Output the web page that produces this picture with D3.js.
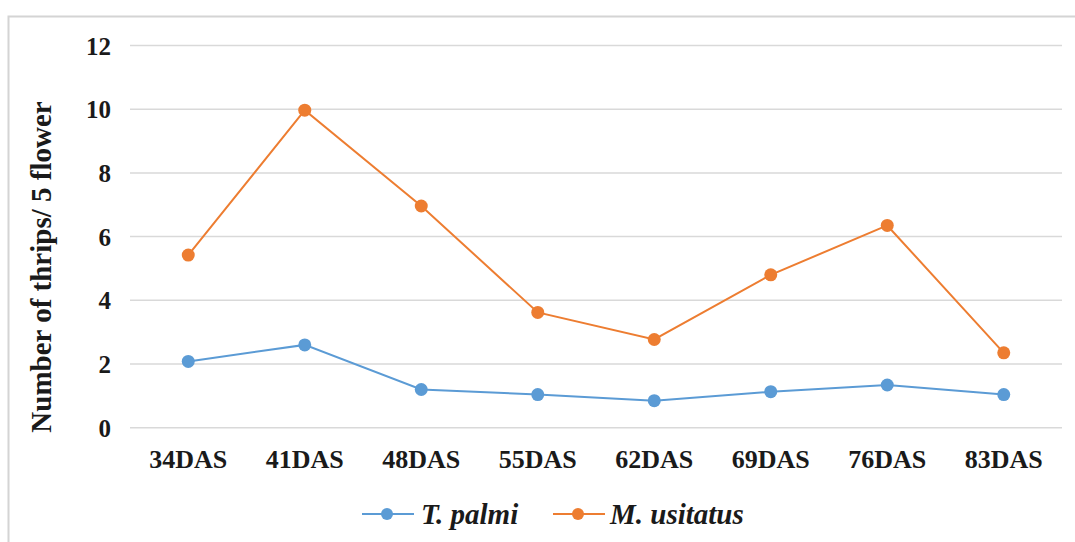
<!DOCTYPE html>
<html>
<head>
<meta charset="utf-8">
<script src="https://cdn.jsdelivr.net/npm/d3@7"></script>
<style>
  html, body { margin: 0; padding: 0; background: #fff; }
  svg { display: block; }
  svg text { font-family: "Liberation Serif", "Times New Roman", Times, "DejaVu Serif", serif; font-weight: bold; fill: #1a1a1a; }
</style>
</head>
<body>
<svg id="chart" width="1075" height="542"></svg>
<script>
const categories = ["34DAS", "41DAS", "48DAS", "55DAS", "62DAS", "69DAS", "76DAS", "83DAS"];
const tPalmi = [2.08, 2.6, 1.2, 1.04, 0.85, 1.13, 1.34, 1.04];
const mUsitatus = [5.42, 9.97, 6.96, 3.62, 2.77, 4.8, 6.35, 2.35];
const yTicks = [0, 2, 4, 6, 8, 10, 12];
const seriesNames = ["T. palmi", "M. usitatus"];
const seriesColors = ["#5B9BD5", "#ED7D31"];

const svg = d3.select("#chart");

// outer frame
svg.append("rect").attr("x", 8.5).attr("y", 16.5).attr("width", 1200).attr("height", 600)
  .attr("fill", "#fff").attr("stroke", "#d4d4d4").attr("stroke-width", 2);

const x = d3.scaleBand().domain(categories).range([130, 1062]);
const y = d3.scaleLinear().domain([0, 12]).range([427.7, 45.5]);

// gridlines
svg.append("g").selectAll("line").data(yTicks).join("line")
  .attr("x1", 130).attr("x2", 1062)
  .attr("y1", d => y(d)).attr("y2", d => y(d))
  .attr("stroke", "#d9d9d9").attr("stroke-width", 1.5);

// y axis labels
const yAxis = svg.append("g").attr("transform", "translate(111,0)")
  .call(d3.axisLeft(y).tickValues(yTicks).tickSize(0).tickPadding(0));
yAxis.attr("font-family", null).attr("font-size", null);
yAxis.select(".domain").remove();
yAxis.selectAll("text").style("font-size", "25px").attr("dy", "0.34em").attr("text-anchor", "end");

// x axis labels
const xAxis = svg.append("g").attr("transform", "translate(0,468)")
  .call(d3.axisBottom(x).tickSize(0).tickPadding(0));
xAxis.attr("font-family", null).attr("font-size", null);
xAxis.select(".domain").remove();
xAxis.selectAll("text").style("font-size", "26px").attr("dy", 0).attr("y", 0);

// y title
svg.append("text")
  .attr("transform", "translate(51,267) rotate(-90)")
  .attr("text-anchor", "middle")
  .style("font-size", "29px")
  .text("Number of thrips/ 5 flower");

const cx = d => x(d) + x.bandwidth() / 2;
const series = [tPalmi, mUsitatus];
series.forEach((vals, i) => {
  const line = d3.line().x((d, j) => cx(categories[j])).y(d => y(d));
  svg.append("path").datum(vals).attr("d", line)
    .attr("fill", "none").attr("stroke", seriesColors[i]).attr("stroke-width", 2);
  svg.append("g").selectAll("circle").data(vals).join("circle")
    .attr("cx", (d, j) => cx(categories[j])).attr("cy", d => y(d)).attr("r", 6.5)
    .attr("fill", seriesColors[i]);
});

// legend
const legendItems = [{x: 362, tx: 421}, {x: 553, tx: 610}];
legendItems.forEach((l, i) => {
  const g = svg.append("g");
  g.append("line").attr("x1", l.x).attr("x2", l.x + 52).attr("y1", 514).attr("y2", 514)
    .attr("stroke", seriesColors[i]).attr("stroke-width", 2);
  g.append("circle").attr("cx", l.x + 25).attr("cy", 514).attr("r", 6).attr("fill", seriesColors[i]);
  g.append("text").attr("x", l.tx).attr("y", 524)
    .style("font-style", "italic").style("font-size", "29px").text(seriesNames[i]);
});
</script>
</body>
</html>
